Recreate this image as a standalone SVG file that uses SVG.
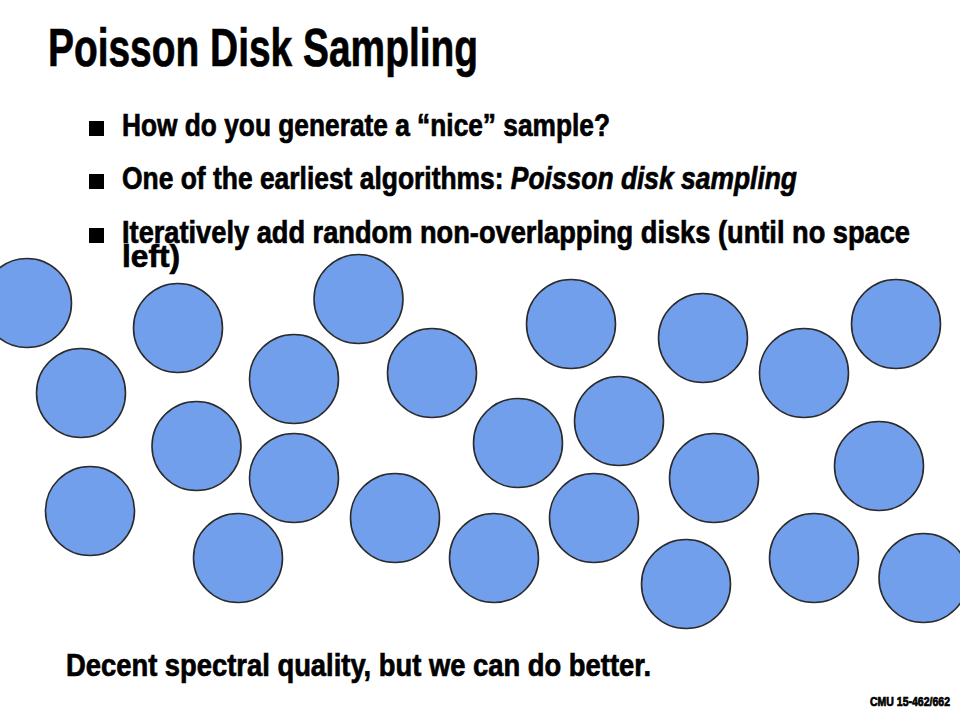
<svg xmlns="http://www.w3.org/2000/svg" width="960" height="720" viewBox="0 0 960 720">
<style>
.t{font-family:"Liberation Sans Narrow","Liberation Sans",Arial,sans-serif;font-weight:bold;fill:#000;stroke:#000;stroke-width:0.7}
.d{fill:#729fec;stroke:#2b2b2b;stroke-width:1.6}
</style>
<rect width="960" height="720" fill="#fff"/>
<text class="t" x="48" y="66" font-size="53" stroke-width="1.2" textLength="430" lengthAdjust="spacingAndGlyphs">Poisson Disk Sampling</text>
<g id="bullets">
<rect x="89" y="121" width="15" height="15" fill="#000"/>
<text class="t" x="122" y="136" font-size="32" textLength="488" lengthAdjust="spacingAndGlyphs">How do you generate a “nice” sample?</text>
<rect x="89" y="174" width="15" height="15" fill="#000"/>
<text class="t" x="122" y="189" font-size="32" textLength="675" lengthAdjust="spacingAndGlyphs">One of the earliest algorithms: <tspan font-style="italic">Poisson disk sampling</tspan></text>
<rect x="89" y="228" width="15" height="15" fill="#000"/>
<text class="t" x="122" y="243" font-size="32" textLength="788" lengthAdjust="spacingAndGlyphs">Iteratively add random non-overlapping disks (until no space</text>
<text class="t" x="122" y="267" font-size="32" textLength="58" lengthAdjust="spacingAndGlyphs">left)</text>
</g>
<g id="disks">
<circle class="d" cx="27" cy="303" r="44.5"/>
<circle class="d" cx="81" cy="393" r="44.5"/>
<circle class="d" cx="178" cy="328" r="44.5"/>
<circle class="d" cx="294" cy="379" r="44.5"/>
<circle class="d" cx="358.5" cy="299" r="44.5"/>
<circle class="d" cx="432" cy="373" r="44.5"/>
<circle class="d" cx="196.5" cy="446" r="44.5"/>
<circle class="d" cx="294" cy="478" r="44.5"/>
<circle class="d" cx="90" cy="511" r="44.5"/>
<circle class="d" cx="238" cy="558" r="44.5"/>
<circle class="d" cx="395" cy="518" r="44.5"/>
<circle class="d" cx="518" cy="443" r="44.5"/>
<circle class="d" cx="494" cy="558" r="44.5"/>
<circle class="d" cx="571" cy="324" r="44.5"/>
<circle class="d" cx="619" cy="421" r="44.5"/>
<circle class="d" cx="594" cy="518" r="44.5"/>
<circle class="d" cx="703" cy="338" r="44.5"/>
<circle class="d" cx="714" cy="478" r="44.5"/>
<circle class="d" cx="686" cy="584" r="44.5"/>
<circle class="d" cx="804" cy="373" r="44.5"/>
<circle class="d" cx="896" cy="324" r="44.5"/>
<circle class="d" cx="879" cy="466" r="44.5"/>
<circle class="d" cx="814" cy="558" r="44.5"/>
<circle class="d" cx="923.5" cy="578" r="44.5"/>
</g>
<text class="t" x="66" y="676" font-size="32" textLength="585" lengthAdjust="spacingAndGlyphs">Decent spectral quality, but we can do better.</text>
<text class="t" x="870" y="706" font-size="12.5" stroke-width="0.3" textLength="80" lengthAdjust="spacingAndGlyphs">CMU 15-462/662</text>
</svg>
